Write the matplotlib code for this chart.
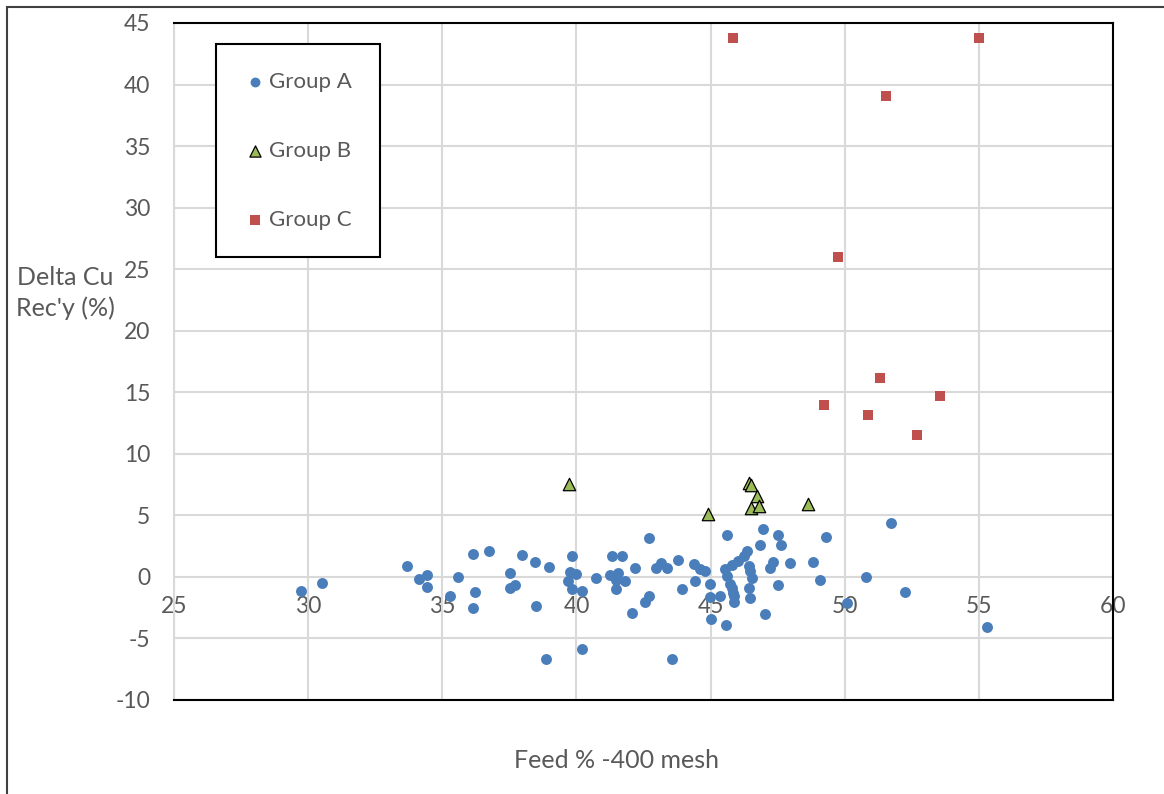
import matplotlib.pyplot as plt
from matplotlib.patches import Rectangle

plt.rcParams['font.family'] = ['Lato', 'DejaVu Sans']
plt.rcParams['axes.unicode_minus'] = False

# Group A (blue circles)
a_x = [29.72, 30.50, 33.70, 34.14, 34.44, 34.43, 35.60, 35.29, 36.13, 36.75,
       36.23, 36.13, 37.52, 37.52, 37.71, 37.98, 38.47, 38.99, 38.48, 38.85,
       39.82, 39.76, 39.67, 39.82, 39.98, 40.20, 40.20, 40.74, 41.34, 41.71,
       41.25, 41.54, 41.47, 41.81, 41.47, 42.07, 42.20, 42.71, 42.57, 42.71,
       42.98, 43.17, 43.36, 43.58, 43.77, 43.92, 44.39, 44.60, 44.42, 44.79,
       44.98, 44.98, 45.35, 45.01, 45.56, 45.63, 45.54, 45.60, 45.72, 45.79,
       45.85, 45.87, 45.89, 45.79, 46.04, 46.23, 46.37, 46.42, 46.48, 46.55,
       46.45, 46.48, 46.94, 46.84, 47.03, 47.50, 47.62, 47.31, 47.21, 47.50,
       47.96, 48.83, 49.29, 49.08, 50.08, 50.79, 51.73, 52.26, 55.30]
a_y = [-1.15, -0.53, 0.88, -0.15, 0.12, -0.85, -0.04, -1.56, 1.89, 2.07,
       -1.24, -2.53, 0.31, -0.88, -0.63, 1.77, 1.18, 0.77, -2.34, -6.63,
       1.67, 0.39, -0.34, -1.02, 0.23, -1.15, -5.87, -0.12, 1.67, 1.67,
       0.15, 0.34, -0.28, -0.34, -1.02, -2.94, 0.75, 3.15, -2.07, -1.53,
       0.75, 1.10, 0.75, -6.68, 1.40, -1.02, 1.02, 0.61, -0.34, 0.47,
       -0.55, -1.61, -1.56, -3.46, -3.94, 3.40, 0.61, 0.07, -0.61, -0.88,
       -1.29, -1.56, -2.05, 0.96, 1.29, 1.69, 2.10, 0.88, 0.47, -0.12,
       -0.91, -1.75, 3.86, 2.56, -3.05, 3.40, 2.56, 1.20, 0.75, -0.63,
       1.15, 1.20, 3.27, -0.28, -2.15, -0.02, 4.37, -1.24, -4.05]

# Group B (green triangles)
b_x = [39.71, 44.90, 46.44, 46.49, 46.72, 46.49, 46.80, 48.65]
b_y = [7.58, 5.08, 7.66, 7.46, 6.57, 5.62, 5.76, 5.95]

# Group C (red squares)
c_x = [45.85, 55.00, 51.53, 49.76, 51.31, 53.55, 49.24, 50.87, 52.70]
c_y = [43.8, 43.8, 39.1, 26.0, 16.2, 14.7, 13.97, 13.15, 11.56]

W, H = 1164, 794
fig = plt.figure(figsize=(W / 100, H / 100), dpi=100)
ax = fig.add_axes([174 / W, 1 - 700 / H, (1113 - 174) / W, (700 - 23) / H])

txt = '#595959'
grid = '#D9D9D9'

ax.set_xlim(25, 60)
ax.set_ylim(-10, 45)
ax.set_xticks(range(25, 61, 5))
ax.set_yticks(range(-10, 46, 5))
ax.grid(True, color=grid, linewidth=1.5, zorder=0)
ax.set_axisbelow(True)

for s in ['top', 'right', 'bottom']:
    ax.spines[s].set_color('black')
    ax.spines[s].set_linewidth(1.5)
ax.spines['left'].set_color(grid)
ax.spines['left'].set_linewidth(1.5)

ax.tick_params(axis='x', length=0, labelbottom=False)
ax.tick_params(axis='y', length=0, pad=17, labelsize=16.5, labelcolor=txt)

# x tick labels sit under the y=0 line
sec = ax.secondary_xaxis(10 / 55)
sec.set_xticks(range(25, 61, 5))
sec.tick_params(length=0, pad=14, labelsize=16.5, labelcolor=txt)
sec.spines['bottom'].set_visible(False)

ax.scatter(a_x, a_y, s=62, marker='o', color='#4A7EBB', linewidths=0,
           label='Group A', zorder=3)
ax.scatter(b_x, b_y, s=80, marker='^', color='#9BBB59', edgecolors='black',
           linewidths=0.9, label='Group B', zorder=3)
ax.scatter(c_x, c_y, s=55, marker='s', color='#C0504D', linewidths=0,
           label='Group C', zorder=3)

leg = ax.legend(loc='upper left', bbox_to_anchor=(216 / W, 1 - 44 / H),
                bbox_transform=fig.transFigure, fontsize=16,
                labelspacing=2.2, handletextpad=0.15, borderpad=1.25,
                borderaxespad=0, fancybox=False, framealpha=1,
                handlelength=1.0, markerscale=0.9)
leg.get_frame().set_edgecolor('black')
leg.get_frame().set_linewidth(1.5)
for t in leg.get_texts():
    t.set_color(txt)

fig.text(65 / W, 1 - 293 / H, "Delta Cu\nRec'y (%)", ha='center', va='center',
         fontsize=18, color=txt, linespacing=1.35)
fig.text(617 / W, 1 - 760 / H, 'Feed % -400 mesh', ha='center', va='center',
         fontsize=18, color=txt)

fig.patches.append(Rectangle((7 / W, -0.05), 1.0, 1.05 - 7 / H, fill=False,
                             edgecolor='#404040', linewidth=1.5,
                             transform=fig.transFigure))

fig.savefig('out.png', dpi=100)
